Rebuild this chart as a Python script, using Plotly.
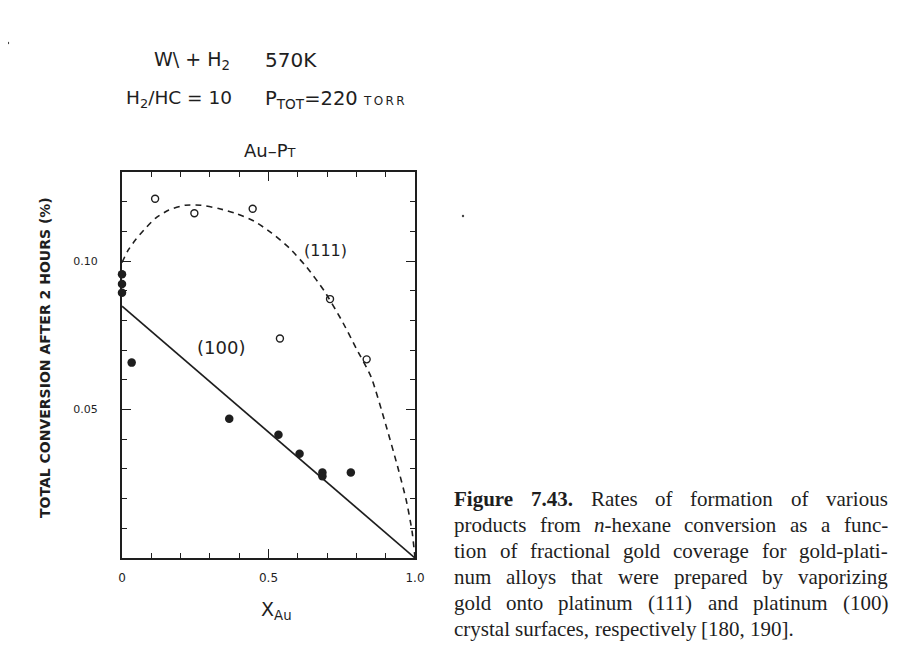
import plotly.graph_objects as go

# ---------------- data ----------------
x111 = [0.113, 0.247, 0.446, 0.539, 0.710, 0.835]
y111 = [0.1210, 0.1161, 0.1176, 0.0739, 0.0872, 0.0669]

x100 = [0.0, 0.0, 0.0, 0.033, 0.366, 0.534, 0.606, 0.684, 0.684, 0.781]
y100 = [0.0956, 0.0923, 0.0893, 0.0658, 0.0469, 0.0415, 0.0351, 0.0288, 0.0275, 0.0288]

fit111_x = [0.0, 0.02, 0.045, 0.075, 0.115, 0.16, 0.215, 0.27, 0.33, 0.39, 0.45, 0.51,
            0.57, 0.63, 0.69, 0.75, 0.80, 0.85, 0.90, 0.94, 0.97, 0.99, 1.0]
fit111_y = [0.0995, 0.1035, 0.1070, 0.1105, 0.1145, 0.1172, 0.1188, 0.1188, 0.1177, 0.1160,
            0.1135, 0.1095, 0.1045, 0.0980, 0.0900, 0.0800, 0.0705, 0.0610, 0.0450, 0.0310,
            0.0195, 0.0090, 0.0]

fit100_x = [0.0, 1.0]
fit100_y = [0.0848, 0.0]

x_tickvals = [0, 0.5, 1.0]
x_ticktext = ["0", "0.5", "1.0"]
y_tickvals = [0.05, 0.10]
y_ticktext = ["0.05", "0.10"]

caption_lines = [
    [("Figure", "b"), ("7.43.", "b"), ("Rates", "r"), ("of", "r"), ("formation", "r"),
     ("of", "r"), ("various", "r")],
    [("products", "r"), ("from", "r"), ("n", "i"), ("-hexane", "r"), ("conversion", "r"),
     ("as", "r"), ("a", "r"), ("func-", "r")],
    [("tion", "r"), ("of", "r"), ("fractional", "r"), ("gold", "r"), ("coverage", "r"),
     ("for", "r"), ("gold-plati-", "r")],
    [("num", "r"), ("alloys", "r"), ("that", "r"), ("were", "r"), ("prepared", "r"),
     ("by", "r"), ("vaporizing", "r")],
    [("gold", "r"), ("onto", "r"), ("platinum", "r"), ("(111)", "r"), ("and", "r"),
     ("platinum", "r"), ("(100)", "r")],
    [("crystal", "r"), ("surfaces,", "r"), ("respectively", "r"), ("[180,", "r"), ("190].", "r")],
]

# ---------------- geometry helpers (page pixels -> paper) ----------------
OFF = 8                      # page body margin of the html
W, H = 897 - 2 * OFF, 651 - 2 * OFF   # fit the page exactly (no scrollbars)
L, R, T, B = 122 - OFF, 415 - OFF, 172 - OFF, 558 - OFF
INK = "#1e1e1e"


def px(xp):
    return ((xp - OFF) - L) / (R - L)


def py(yp):
    return (B - (yp - OFF)) / (B - T)


# approximate Times metrics (per 1000 em)
REG = dict(a=444, b=500, c=444, d=500, e=444, f=333, g=500, h=500, i=278, j=278, k=500,
           l=278, m=778, n=500, o=500, p=500, q=500, r=333, s=389, t=278, u=500, v=500,
           w=722, x=500, y=500, z=444)
REG.update({str(d): 500 for d in range(10)})
REG.update({".": 250, ",": 250, "-": 333, "(": 333, ")": 333, "[": 333, "]": 333,
            "F": 556, "R": 667})
BOLD = dict(REG)
BOLD.update(dict(F=611, u=556, r=444, g=500, i=278, e=444))


def wwidth(word, style, fs):
    tab = BOLD if style == "b" else REG
    return sum(tab.get(ch, 500) for ch in word) / 1000.0 * fs


fig = go.Figure()

fig.add_trace(go.Scatter(x=fit111_x, y=fit111_y, mode="lines",
                         line=dict(color=INK, width=1.6, dash="6px,5px", shape="spline",
                                   smoothing=0.6),
                         hoverinfo="skip", showlegend=False))
fig.add_trace(go.Scatter(x=fit100_x, y=fit100_y, mode="lines",
                         line=dict(color=INK, width=1.7),
                         hoverinfo="skip", showlegend=False))
fig.add_trace(go.Scatter(x=x111, y=y111, mode="markers", cliponaxis=False,
                         marker=dict(symbol="circle-open", size=7, color=INK,
                                     line=dict(width=1.4, color=INK)),
                         showlegend=False))
fig.add_trace(go.Scatter(x=x100, y=y100, mode="markers", cliponaxis=False,
                         marker=dict(symbol="circle", size=8.5, color=INK),
                         showlegend=False))

ann = []
sans = "DejaVu Sans"
# header
ann.append(dict(x=px(192), y=py(60), text="W\\ + H<sub>2</sub>", xanchor="center",
                font=dict(size=19, family=sans, color=INK)))
ann.append(dict(x=px(263), y=py(60), text="570K", xanchor="left",
                font=dict(size=20, family=sans, color=INK)))
ann.append(dict(x=px(124), y=py(99), text="H<sub>2</sub>/HC = 10", xanchor="left",
                font=dict(size=18.5, family=sans, color=INK)))
ann.append(dict(x=px(263), y=py(99),
                text="P<sub>TOT</sub>=220 <span style='font-size:12px'>T\u2009O\u2009R\u2009R</span>",
                xanchor="left", font=dict(size=19.5, family=sans, color=INK)))
ann.append(dict(x=px(270), y=py(150), text="Au–P<span style='font-size:13px'>T</span>",
                xanchor="center", font=dict(size=18, family=sans, color=INK)))
# curve labels
ann.append(dict(x=0.696, y=0.1034, xref="x", yref="y", text="(111)", xanchor="center",
                font=dict(size=16, family=sans, color=INK)))
ann.append(dict(x=0.338, y=0.0708, xref="x", yref="y", text="(100)", xanchor="center",
                font=dict(size=18, family=sans, color=INK)))
# axis titles
ann.append(dict(x=px(45), y=py(358), text="<b>TOTAL CONVERSION AFTER 2 HOURS (%)</b>",
                textangle=-90, xanchor="center",
                font=dict(size=14, family=sans, color=INK)))
ann.append(dict(x=px(276), y=py(610), text="X<sub>Au</sub>", xanchor="center",
                font=dict(size=19, family=sans, color=INK)))

# caption, justified word by word
serif = "Liberation Serif"
fs = 21
cap_left, cap_right = 452, 886
line0, lstep = 499, 26
for k, words in enumerate(caption_lines):
    yline = line0 + k * lstep
    widths = [wwidth(w, s, fs) for w, s in words]
    last = (k == len(caption_lines) - 1)
    groups = []
    for (w, s), wd in zip(words, widths):
        if w.startswith("-") and groups:
            groups[-1].append((w, s, wd))
        else:
            groups.append([(w, s, wd)])
    gw = [sum(p[2] for p in g) for g in groups]
    if last:
        gap = 0.25 * fs
    else:
        gap = (cap_right - cap_left - sum(gw)) / (len(groups) - 1)
    xcur = cap_left
    for g, wd in zip(groups, gw):
        txt = ""
        for w, s, _ in g:
            if s == "b":
                txt += "<b>%s</b>" % w
            elif s == "i":
                txt += "<i>%s</i>" % w
            else:
                txt += w
        ann.append(dict(x=px(xcur), y=py(yline), text=txt, xanchor="left",
                        font=dict(size=fs, family=serif, color=INK)))
        xcur += wd + gap

for a in ann:
    a.setdefault("xref", "paper")
    a.setdefault("yref", "paper")
    a["yanchor"] = "middle"
    a["showarrow"] = False

# two small scan specks of the reference
shapes = []
for sx, sy in [(8, 43), (463, 216)]:
    shapes.append(dict(type="circle", xref="paper", yref="paper",
                       x0=px(sx - 1.2), x1=px(sx + 1.2), y0=py(sy + 1.2), y1=py(sy - 1.2),
                       fillcolor="#444", line=dict(width=0)))

fig.update_layout(
    width=W, height=H,
    margin=dict(l=L, r=W - R, t=T, b=H - B, pad=0),
    paper_bgcolor="white", plot_bgcolor="white",
    annotations=ann, shapes=shapes,
    xaxis=dict(range=[0, 1], showgrid=False, zeroline=False, showline=True, linecolor=INK,
               linewidth=1.9, mirror="ticks", ticks="inside", ticklen=9, tickwidth=1.3,
               tickcolor=INK, tickvals=x_tickvals, ticktext=x_ticktext,
               tickfont=dict(size=12, family=sans, color=INK), ticklabelstandoff=8,
               minor=dict(dtick=0.1, tick0=0, ticks="inside", ticklen=5, tickwidth=1.2,
                          tickcolor=INK)),
    yaxis=dict(range=[0, 0.13], showgrid=False, zeroline=False, showline=True, linecolor=INK,
               linewidth=1.9, mirror="ticks", ticks="inside", ticklen=9, tickwidth=1.3,
               tickcolor=INK, tickvals=y_tickvals, ticktext=y_ticktext,
               tickfont=dict(size=11, family=sans, color=INK), ticklabelstandoff=20,
               minor=dict(dtick=0.01, tick0=0, ticks="inside", ticklen=5, tickwidth=1.2,
                          tickcolor=INK)),
)

fig.write_html("out.html")
